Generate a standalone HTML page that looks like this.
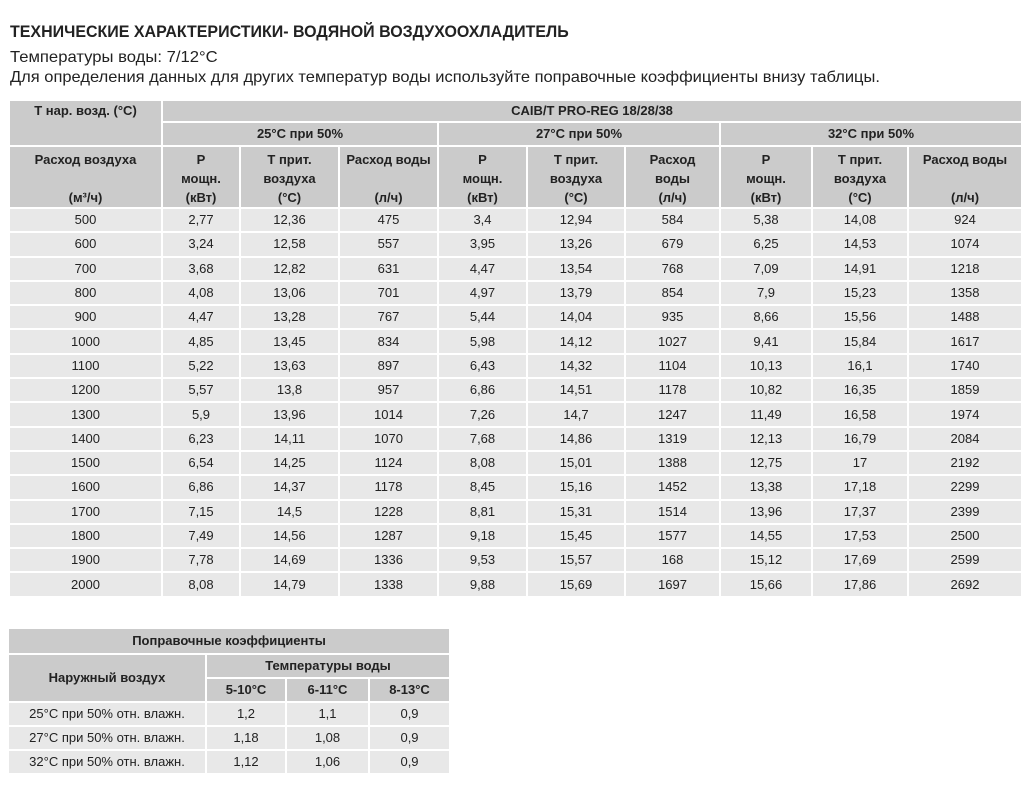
<!DOCTYPE html>
<html><head><meta charset="utf-8"><style>
body{margin:0;width:1030px;height:790px;background:#fff;font-family:"Liberation Sans","DejaVu Sans",sans-serif;color:#222;position:relative;overflow:hidden}
.t{position:absolute;white-space:nowrap;transform-origin:0 0}
table{position:absolute;border-collapse:collapse;table-layout:fixed}
td{border:2px solid #fff;text-align:center;padding:0;font-size:13px;line-height:16px;overflow:hidden;white-space:nowrap}
.h td{background:#cbcbcb;font-weight:bold}
.h3 td{vertical-align:top;padding-top:3px;line-height:19px}
.d td{background:#e8e8e8}
</style></head><body>
<div class="t" style="left:10px;top:22px;font-size:17px;font-weight:bold;transform:scaleX(0.94)">ТЕХНИЧЕСКИЕ ХАРАКТЕРИСТИКИ- ВОДЯНОЙ ВОЗДУХООХЛАДИТЕЛЬ</div>
<div class="t" style="left:10px;top:49px;font-size:16px;transform:scaleX(1.04)">Температуры воды: 7/12°C</div>
<div class="t" style="left:10px;top:69px;font-size:16px;transform:scaleX(1.03)">Для определения данных для других температур воды используйте поправочные коэффициенты внизу таблицы.</div>

<table style="left:8px;top:99px;width:1013px">
<colgroup><col style="width:153px"><col style="width:78px"><col style="width:99px"><col style="width:99px"><col style="width:89px"><col style="width:98px"><col style="width:95px"><col style="width:92px"><col style="width:96px"><col style="width:114px"></colgroup>
<tr class="h" style="height:22px"><td rowspan="2" style="vertical-align:top;padding-top:2px">Т нар. возд. (°C)</td><td colspan="9">CAIB/T PRO-REG 18/28/38</td></tr>
<tr class="h" style="height:24px"><td colspan="3">25°C при 50%</td><td colspan="3">27°C при 50%</td><td colspan="3">32°C при 50%</td></tr>
<tr class="h h3" style="height:62px"><td>Расход воздуха<br>&nbsp;<br>(м³/ч)</td><td>P<br>мощн.<br>(кВт)</td><td>Т прит.<br>воздуха<br>(°C)</td><td>Расход воды<br>&nbsp;<br>(л/ч)</td><td>P<br>мощн.<br>(кВт)</td><td>Т прит.<br>воздуха<br>(°C)</td><td>Расход<br>воды<br>(л/ч)</td><td>P<br>мощн.<br>(кВт)</td><td>Т прит.<br>воздуха<br>(°C)</td><td>Расход воды<br>&nbsp;<br>(л/ч)</td></tr>
<tr class="d" style="height:24.3px"><td>500</td><td>2,77</td><td>12,36</td><td>475</td><td>3,4</td><td>12,94</td><td>584</td><td>5,38</td><td>14,08</td><td>924</td></tr>
<tr class="d" style="height:24.3px"><td>600</td><td>3,24</td><td>12,58</td><td>557</td><td>3,95</td><td>13,26</td><td>679</td><td>6,25</td><td>14,53</td><td>1074</td></tr>
<tr class="d" style="height:24.3px"><td>700</td><td>3,68</td><td>12,82</td><td>631</td><td>4,47</td><td>13,54</td><td>768</td><td>7,09</td><td>14,91</td><td>1218</td></tr>
<tr class="d" style="height:24.3px"><td>800</td><td>4,08</td><td>13,06</td><td>701</td><td>4,97</td><td>13,79</td><td>854</td><td>7,9</td><td>15,23</td><td>1358</td></tr>
<tr class="d" style="height:24.3px"><td>900</td><td>4,47</td><td>13,28</td><td>767</td><td>5,44</td><td>14,04</td><td>935</td><td>8,66</td><td>15,56</td><td>1488</td></tr>
<tr class="d" style="height:24.3px"><td>1000</td><td>4,85</td><td>13,45</td><td>834</td><td>5,98</td><td>14,12</td><td>1027</td><td>9,41</td><td>15,84</td><td>1617</td></tr>
<tr class="d" style="height:24.3px"><td>1100</td><td>5,22</td><td>13,63</td><td>897</td><td>6,43</td><td>14,32</td><td>1104</td><td>10,13</td><td>16,1</td><td>1740</td></tr>
<tr class="d" style="height:24.3px"><td>1200</td><td>5,57</td><td>13,8</td><td>957</td><td>6,86</td><td>14,51</td><td>1178</td><td>10,82</td><td>16,35</td><td>1859</td></tr>
<tr class="d" style="height:24.3px"><td>1300</td><td>5,9</td><td>13,96</td><td>1014</td><td>7,26</td><td>14,7</td><td>1247</td><td>11,49</td><td>16,58</td><td>1974</td></tr>
<tr class="d" style="height:24.3px"><td>1400</td><td>6,23</td><td>14,11</td><td>1070</td><td>7,68</td><td>14,86</td><td>1319</td><td>12,13</td><td>16,79</td><td>2084</td></tr>
<tr class="d" style="height:24.3px"><td>1500</td><td>6,54</td><td>14,25</td><td>1124</td><td>8,08</td><td>15,01</td><td>1388</td><td>12,75</td><td>17</td><td>2192</td></tr>
<tr class="d" style="height:24.3px"><td>1600</td><td>6,86</td><td>14,37</td><td>1178</td><td>8,45</td><td>15,16</td><td>1452</td><td>13,38</td><td>17,18</td><td>2299</td></tr>
<tr class="d" style="height:24.3px"><td>1700</td><td>7,15</td><td>14,5</td><td>1228</td><td>8,81</td><td>15,31</td><td>1514</td><td>13,96</td><td>17,37</td><td>2399</td></tr>
<tr class="d" style="height:24.3px"><td>1800</td><td>7,49</td><td>14,56</td><td>1287</td><td>9,18</td><td>15,45</td><td>1577</td><td>14,55</td><td>17,53</td><td>2500</td></tr>
<tr class="d" style="height:24.3px"><td>1900</td><td>7,78</td><td>14,69</td><td>1336</td><td>9,53</td><td>15,57</td><td>168</td><td>15,12</td><td>17,69</td><td>2599</td></tr>
<tr class="d" style="height:24.3px"><td>2000</td><td>8,08</td><td>14,79</td><td>1338</td><td>9,88</td><td>15,69</td><td>1697</td><td>15,66</td><td>17,86</td><td>2692</td></tr>
</table>

<table style="left:7px;top:627px;width:442px">
<colgroup><col style="width:198px"><col style="width:80px"><col style="width:83px"><col style="width:81px"></colgroup>
<tr class="h" style="height:26px"><td colspan="4">Поправочные коэффициенты</td></tr>
<tr class="h" style="height:24px"><td rowspan="2">Наружный воздух</td><td colspan="3">Температуры воды</td></tr>
<tr class="h" style="height:24px"><td>5-10°C</td><td>6-11°C</td><td>8-13°C</td></tr>
<tr class="d" style="height:24px"><td>25°C при 50% отн. влажн.</td><td>1,2</td><td>1,1</td><td>0,9</td></tr>
<tr class="d" style="height:24px"><td>27°C при 50% отн. влажн.</td><td>1,18</td><td>1,08</td><td>0,9</td></tr>
<tr class="d" style="height:24px"><td>32°C при 50% отн. влажн.</td><td>1,12</td><td>1,06</td><td>0,9</td></tr>
</table>
</body></html>
